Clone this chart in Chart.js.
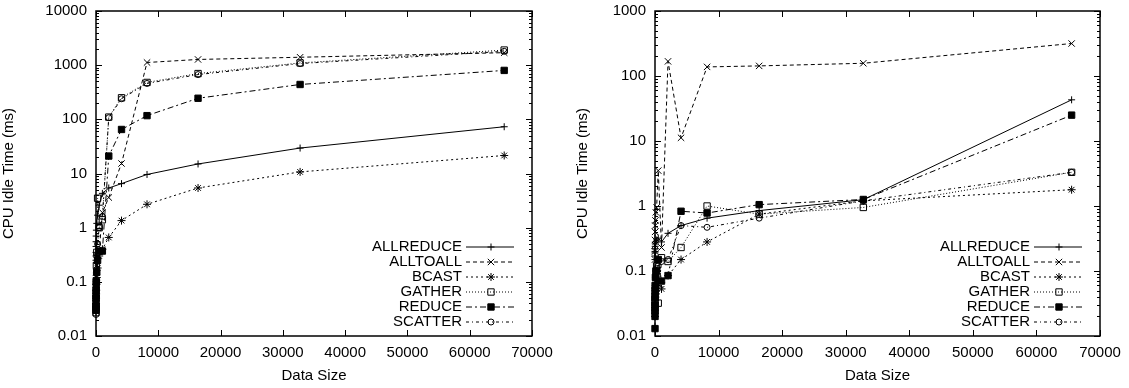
<!DOCTYPE html>
<html>
<head>
<meta charset="utf-8">
<script src="https://cdn.jsdelivr.net/npm/chart.js@4.4.0/dist/chart.umd.min.js"></script>
<style>
  html, body { margin: 0; padding: 0; background: #fff; }
  body { width: 1129px; height: 388px; position: relative; overflow: hidden; }
  .panel { position: absolute; top: 0; height: 388px; }
  #left { left: 0; width: 560px; }
  #right { left: 560px; width: 569px; }
</style>
</head>
<body>
<div class="panel" id="left"><canvas id="chartLeft"></canvas></div>
<div class="panel" id="right"><canvas id="chartRight"></canvas></div>
<script>
// message sizes (x)
const dataSizes = [1, 2, 4, 8, 16, 32, 64, 128, 256, 512, 1024, 2048, 4096, 8192, 16384, 32768, 65536];
const seriesNames = ['ALLREDUCE', 'ALLTOALL', 'BCAST', 'GATHER', 'REDUCE', 'SCATTER'];

// left plot
const leftAllreduce = [0.25, 0.3, 0.35, 0.45, 0.55, 0.7, 0.9, 1.2, 1.7, 2.6, 4.3, 5.4, 6.5, 9.6, 15, 29.5, 73];
const leftAlltoall  = [0.06, 0.07, 0.08, 0.1, 0.12, 0.15, 0.2, 0.25, 0.3, 0.36, 1.9, 3.6, 15.3, 1120, 1275, 1400, 1700];
const leftBcast     = [0.03, 0.035, 0.04, 0.05, 0.06, 0.07, 0.09, 0.12, 0.18, 0.3, 0.4, 0.66, 1.35, 2.7, 5.4, 10.7, 21.5];
const leftGather    = [0.027, 0.03, 0.035, 0.05, 0.07, 0.1, 0.2, 0.35, 3.5, 1.0, 1.4, 110, 250, 480, 700, 1100, 1900];
const leftReduce    = [0.03, 0.035, 0.04, 0.05, 0.06, 0.08, 0.1, 0.15, 0.25, 0.37, 0.37, 21, 65, 117, 245, 440, 800];
const leftScatter   = [0.025, 0.03, 0.04, 0.05, 0.07, 0.1, 0.15, 0.3, 0.5, 1.0, 1.6, 107, 240, 460, 670, 1070, 1800];

// right plot
const rightAllreduce = [0.15, 0.17, 0.19, 0.2, 0.22, 0.24, 0.26, 0.28, 0.3, 0.32, 0.28, 0.38, 0.5, 0.65, 0.85, 1.25, 43];
const rightAlltoall  = [0.15, 0.2, 0.25, 0.3, 0.4, 0.5, 0.6, 0.8, 0.95, 3.5, 0.23, 168, 11.2, 138, 143, 157, 316];
const rightBcast     = [0.02, 0.022, 0.025, 0.03, 0.035, 0.04, 0.045, 0.05, 0.06, 0.07, 0.053, 0.085, 0.15, 0.28, 0.75, 1.2, 1.78];
const rightGather    = [0.025, 0.03, 0.035, 0.04, 0.05, 0.06, 0.08, 0.1, 0.12, 0.032, 0.16, 0.14, 0.23, 1.0, 0.75, 0.95, 3.3];
const rightReduce    = [0.013, 0.02, 0.025, 0.03, 0.04, 0.05, 0.06, 0.08, 0.1, 0.15, 0.07, 0.085, 0.83, 0.78, 1.05, 1.26, 25];
const rightScatter   = [0.02, 0.025, 0.03, 0.04, 0.05, 0.06, 0.08, 0.1, 0.11, 0.12, 0.14, 0.15, 0.5, 0.47, 0.65, 1.2, 3.3];

// axis ticks
const xTicks = [0, 10000, 20000, 30000, 40000, 50000, 60000, 70000];
const leftYTicks = [0.01, 0.1, 1, 10, 100, 1000, 10000];
const rightYTicks = [0.01, 0.1, 1, 10, 100, 1000];

const FONT = { family: '"Liberation Sans", Arial, sans-serif', size: 15 };

// gnuplot-like line / point styles
const styles = [
  { dash: [],            point: 'cross',    radius: 3.5, fill: '#000' },
  { dash: [4, 3],        point: 'crossRot', radius: 4.5, fill: '#000' },
  { dash: [2, 3],        point: 'star',     radius: 4,   fill: '#000' },
  { dash: [1, 2],        point: 'rect',     radius: 4.5, fill: 'rgba(0,0,0,0)' },
  { dash: [6, 3, 2, 3],  point: 'rect',     radius: 4.5, fill: '#000' },
  { dash: [3, 3, 1, 3],  point: 'circle',   radius: 3,   fill: 'rgba(0,0,0,0)' }
];

function makeDatasets(values) {
  return seriesNames.map((name, i) => ({
    label: name,
    data: dataSizes.map((s, j) => ({ x: s, y: values[i][j] })),
    borderColor: '#000',
    borderWidth: 1,
    borderDash: styles[i].dash,
    pointStyle: styles[i].point,
    pointRadius: styles[i].radius,
    pointBackgroundColor: styles[i].fill,
    pointBorderColor: '#000',
    pointBorderWidth: 1,
    tension: 0,
    fill: false,
    clip: false
  }));
}

// border + inward ticks on all four sides
const frameTicks = {
  id: 'frameTicks',
  afterDraw(chart) {
    const { ctx, chartArea: a, scales: { x, y } } = chart;
    ctx.save();
    ctx.strokeStyle = '#000';
    ctx.lineWidth = 1;
    ctx.beginPath();
    xTicks.forEach(v => {
      const px = Math.round(x.getPixelForValue(v)) + 0.5;
      ctx.moveTo(px, a.bottom); ctx.lineTo(px, a.bottom - 6);
      ctx.moveTo(px, a.top); ctx.lineTo(px, a.top + 6);
    });
    const lo = Math.round(Math.log10(y.min)), hi = Math.round(Math.log10(y.max));
    for (let d = lo; d <= hi; d++) {
      for (let m = 1; m <= 9; m++) {
        const v = m * Math.pow(10, d);
        if (v > y.max * 1.0001) break;
        const len = m === 1 ? 6 : 3;
        const py = Math.round(y.getPixelForValue(v)) + 0.5;
        ctx.moveTo(a.left, py); ctx.lineTo(a.left + len, py);
        ctx.moveTo(a.right, py); ctx.lineTo(a.right - len, py);
      }
    }
    ctx.stroke();
    ctx.lineWidth = 1.5;
    ctx.strokeRect(a.left, a.top, a.right - a.left, a.bottom - a.top);
    ctx.restore();
  }
};

// key in the lower right corner, text then line sample with the point
const gnuKey = {
  id: 'gnuKey',
  afterDatasetsDraw(chart) {
    const { ctx, chartArea: a } = chart;
    const n = chart.data.datasets.length;
    ctx.save();
    ctx.font = FONT.size + 'px ' + FONT.family;
    ctx.textAlign = 'right';
    ctx.textBaseline = 'middle';
    chart.data.datasets.forEach((ds, i) => {
      const rowY = a.bottom - 14 - 15 * (n - 1 - i);
      ctx.fillStyle = '#000';
      ctx.fillText(ds.label, a.right - 70, rowY);
      ctx.beginPath();
      ctx.strokeStyle = '#000';
      ctx.lineWidth = 1;
      ctx.setLineDash(ds.borderDash);
      ctx.moveTo(a.right - 66, rowY);
      ctx.lineTo(a.right - 18, rowY);
      ctx.stroke();
      ctx.setLineDash([]);
      ctx.fillStyle = ds.pointBackgroundColor;
      Chart.helpers.drawPoint(ctx, { pointStyle: ds.pointStyle, radius: ds.pointRadius, rotation: 0, borderWidth: 1 }, a.right - 41, rowY);
    });
    ctx.restore();
  }
};

function makeChart(id, values, yTicks, yWidth, padLeft, padRight) {
  new Chart(document.getElementById(id), {
    type: 'line',
    data: { datasets: makeDatasets(values) },
    plugins: [frameTicks, gnuKey],
    options: {
      responsive: true,
      maintainAspectRatio: false,
      animation: false,
      layout: { padding: { left: padLeft, right: padRight, top: 11, bottom: 0 } },
      plugins: { legend: { display: false }, tooltip: { enabled: false } },
      scales: {
        x: {
          type: 'linear',
          min: 0,
          max: 70000,
          afterBuildTicks: s => { s.ticks = xTicks.map(v => ({ value: v })); },
          afterFit: s => { s.height = 52; s.paddingLeft = 0; s.paddingRight = 0; },
          ticks: { callback: v => String(v), font: FONT, color: '#000', padding: 8, maxRotation: 0, autoSkip: false },
          grid: { display: false, drawTicks: false },
          border: { display: false },
          title: { display: true, text: 'Data Size', font: FONT, color: '#000', padding: { top: 0, bottom: 3 } }
        },
        y: {
          type: 'logarithmic',
          min: yTicks[0],
          max: yTicks[yTicks.length - 1],
          afterBuildTicks: s => { s.ticks = yTicks.map(v => ({ value: v })); },
          afterFit: s => { s.width = yWidth; s.paddingTop = 0; s.paddingBottom = 0; },
          ticks: { callback: v => String(v), font: FONT, color: '#000', padding: 9, autoSkip: false },
          grid: { display: false, drawTicks: false },
          border: { display: false },
          title: { display: true, text: 'CPU Idle Time (ms)', font: FONT, color: '#000', padding: { top: 0, bottom: 0 } }
        }
      }
    }
  });
}

makeChart('chartLeft',
  [leftAllreduce, leftAlltoall, leftBcast, leftGather, leftReduce, leftScatter],
  leftYTicks, 96, 0, 28);
makeChart('chartRight',
  [rightAllreduce, rightAlltoall, rightBcast, rightGather, rightReduce, rightScatter],
  rightYTicks, 81, 14, 29);
</script>
</body>
</html>
